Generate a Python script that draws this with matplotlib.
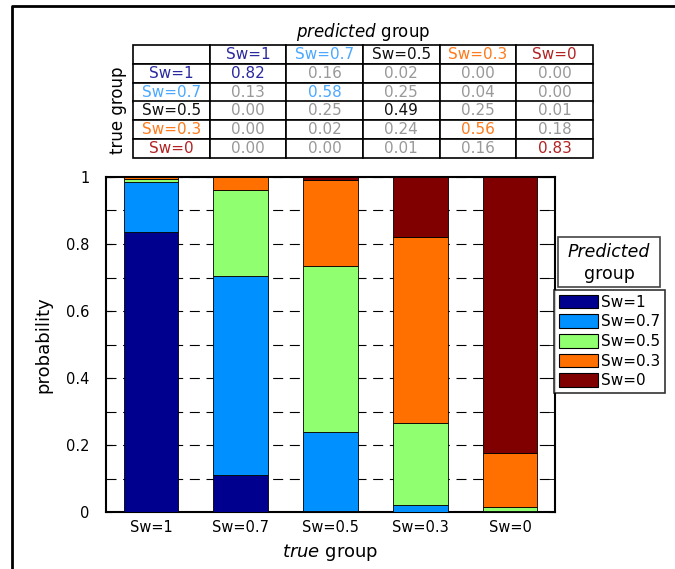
import numpy as np
import matplotlib
matplotlib.use('Agg')
import matplotlib.pyplot as plt
from matplotlib.patches import Patch, Rectangle
from matplotlib.lines import Line2D

# groups (true on x, predicted stacked)
groups = ['Sw=1', 'Sw=0.7', 'Sw=0.5', 'Sw=0.3', 'Sw=0']
colors = ['#00008f', '#0090ff', '#90ff70', '#ff7000', '#800000']
text_colors = ['#2a2aa0', '#4aa8ff', '#111111', '#ff7a1a', '#b22222']

# stacked probabilities (rows = true group, cols = predicted)
bar_probs = np.array([
    [0.835, 0.150, 0.010, 0.005, 0.000],
    [0.110, 0.595, 0.257, 0.038, 0.000],
    [0.003, 0.237, 0.495, 0.255, 0.010],
    [0.000, 0.022, 0.243, 0.555, 0.180],
    [0.000, 0.002, 0.013, 0.162, 0.823],
])

# confusion table values
table_vals = np.array([
    [0.82, 0.16, 0.02, 0.00, 0.00],
    [0.13, 0.58, 0.25, 0.04, 0.00],
    [0.00, 0.25, 0.49, 0.25, 0.01],
    [0.00, 0.02, 0.24, 0.56, 0.18],
    [0.00, 0.00, 0.01, 0.16, 0.83],
])

fig = plt.figure(figsize=(6.75, 5.69), dpi=100)

# frame lines (left + top)
fig.add_artist(Line2D([12/675, 12/675, 1.0], [0.0, 1-6/569, 1-6/569],
                      transform=fig.transFigure, color='black', lw=2))

# main axes
ax = fig.add_axes([106/675, 1-512/569, 449/675, 335/569])
x = np.arange(1, 6)
bottom = np.zeros(5)
for j in range(5):
    ax.bar(x, bar_probs[:, j], 0.61, bottom=bottom, color=colors[j],
           edgecolor='black', linewidth=0.6, zorder=3)
    bottom += bar_probs[:, j]

ax.set_xlim(0.5, 5.5)
ax.set_ylim(0, 1)
ax.set_xticks(x)
ax.set_xticklabels(groups, fontsize=10.5)
ax.set_yticks([0, 0.2, 0.4, 0.6, 0.8, 1.0])
ax.set_yticklabels(['0', '0.2', '0.4', '0.6', '0.8', '1'], fontsize=10.5)
ax.set_yticks(np.arange(0.1, 1.0, 0.2), minor=True)
ax.tick_params(axis='y', which='both', direction='in', right=True, length=4, pad=12)
ax.tick_params(axis='x', length=0, pad=6)
ax.grid(axis='y', which='both', color='black', ls=(0, (9, 6)), lw=0.8)
ax.set_axisbelow(True)
for s in ax.spines.values():
    s.set_linewidth(1.5)
ax.set_ylabel('probability', fontsize=13, labelpad=10)
ax.set_xlabel(r'$\it{true}$ group', fontsize=13, labelpad=5)

# legend
handles = [Patch(facecolor=c, edgecolor='black', lw=0.8) for c in colors]
leg = fig.legend(handles, groups, loc='upper left', bbox_to_anchor=(554/675, 1-290/569),
                 fontsize=11, frameon=True, fancybox=False, edgecolor='black',
                 handlelength=2.6, handleheight=1.0, handletextpad=0.2,
                 labelspacing=0.3, borderpad=0.3, borderaxespad=0)
leg.get_frame().set_linewidth(1.2)

# legend title box
fig.add_artist(Rectangle((558/675, 1-287/569), 102/675, 50/569, transform=fig.transFigure,
                         facecolor='white', edgecolor='#444444', lw=1.2))
fig.text(609/675, 1-252/569, 'Predicted', style='italic', fontsize=12.5, ha='center', va='center')
fig.text(609/675, 1-274/569, 'group', fontsize=12.5, ha='center', va='center')

# table
tax = fig.add_axes([133/675, 1-158/569, 460/675, 113/569])
tax.axis('off')
cells = [[''] + groups]
for i in range(5):
    cells.append([groups[i]] + ['%.2f' % v for v in table_vals[i]])
tab = tax.table(cellText=cells, bbox=[0, 0, 1, 1], cellLoc='center')
tab.auto_set_font_size(False)
tab.set_fontsize(11)
for (r, c), cell in tab.get_celld().items():
    cell.set_linewidth(1.2)
    txt = cell.get_text()
    if r == 0 and c > 0:
        txt.set_color(text_colors[c-1])
    elif c == 0 and r > 0:
        txt.set_color(text_colors[r-1])
    elif r > 0 and c > 0:
        txt.set_color(text_colors[r-1] if r == c else '#999999')
fig.text(363/675, 1-32/569, r'$\it{predicted}$ group', fontsize=12, ha='center', va='center')
fig.text(118/675, 1-110/569, 'true group', fontsize=12, rotation=90, ha='center', va='center')

fig.savefig('out.png', dpi=100)
